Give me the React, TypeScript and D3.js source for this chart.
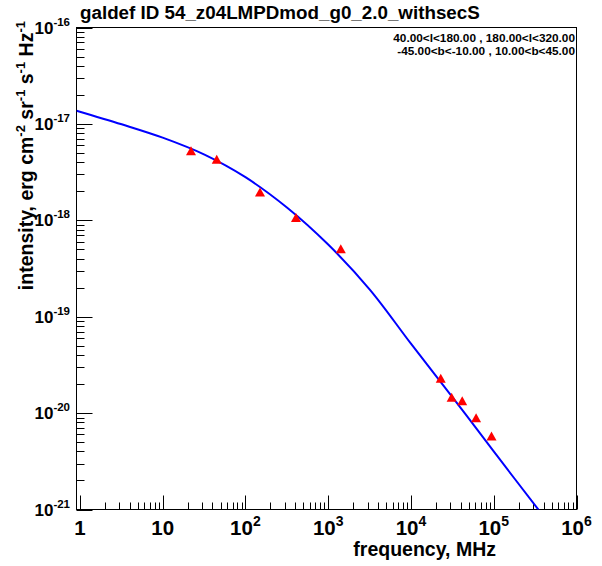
import React from 'react';
import * as d3 from 'd3';

// Data points (red triangles)
const freqMHz = [22, 45, 150, 408, 1420, 22900, 31000, 41600, 61200, 94000];
const intensity = [5.27e-18, 4.3e-18, 1.97e-18, 1.07e-18, 5.07e-19, 2.3e-20, 1.46e-20, 1.34e-20, 8.95e-21, 5.78e-21];

// Model curve (blue line)
const modelFreq = [0.91, 3.2, 10, 32, 100, 320, 1000, 3200, 10000, 32000, 100000, 400000];
const modelIntensity = [1.37e-17, 9.9e-18, 7.2e-18, 4.8e-18, 2.8e-18, 1.35e-18, 5.6e-19, 1.9e-19, 5.25e-20, 1.45e-20, 4.0e-21, 8.5e-22];

const xTickExp = [0, 1, 2, 3, 4, 5, 6];
const yTickExp = [-16, -17, -18, -19, -20, -21];

const titleText = 'galdef ID 54_z04LMPDmod_g0_2.0_withsecS';
const legendLines = ['40.00<l<180.00 , 180.00<l<320.00', '-45.00<b<-10.00 , 10.00<b<45.00'];

const FONT = '"Liberation Sans", Arial, Helvetica, sans-serif';

export default function App() {
  const left = 76.5, right = 576.5, top = 27.5, bottom = 509.5;
  const x = d3.scaleLog().domain([0.91, 1e6]).range([left, right]);
  const y = d3.scaleLog().domain([1e-21, 1e-16]).range([bottom, top]);

  const line = d3
    .line<number>()
    .x((i) => x(modelFreq[i]))
    .y((i) => y(modelIntensity[i]))
    .curve(d3.curveCatmullRom.alpha(0.5));
  const idx = modelFreq.map((_, i) => i);

  const xMinor: number[] = [];
  for (let e = 0; e < 6; e++) for (let m = 2; m <= 9; m++) xMinor.push(m * Math.pow(10, e));
  const yMinor: number[] = [];
  for (let e = -21; e < -16; e++) for (let m = 2; m <= 9; m++) yMinor.push(m * Math.pow(10, e));

  const triW = 10, triH = 9;

  return (
    <svg width={602} height={566} style={{ position: 'absolute', left: 0, top: 0, background: '#fff' }} fontFamily={FONT}>
      <rect x={0} y={0} width={602} height={566} fill="#fff" />
      <defs>
        <clipPath id="plotclip">
          <rect x={left} y={top} width={right - left} height={bottom - top} />
        </clipPath>
      </defs>

      {/* title */}
      <text x={80} y={19} fontSize={18.8} fontWeight="bold" fill="#000">{titleText}</text>

      {/* frame */}
      <rect x={left} y={top} width={right - left} height={bottom - top} fill="none" stroke="#000" strokeWidth={1} />

      {/* x ticks */}
      {xTickExp.map((e) => {
        const px = Math.round(x(Math.pow(10, e))) + 0.5;
        return <line key={'xM' + e} x1={px} x2={px} y1={bottom} y2={bottom - 14} stroke="#000" />;
      })}
      {xMinor.map((v, i) => {
        const px = Math.round(x(v)) + 0.5;
        return <line key={'xm' + i} x1={px} x2={px} y1={bottom} y2={bottom - 7} stroke="#000" />;
      })}

      {/* y ticks */}
      {yTickExp.map((e) => {
        const py = Math.round(y(Math.pow(10, e))) + 0.5;
        return <line key={'yM' + e} x1={left} x2={left + 16} y1={py} y2={py} stroke="#000" />;
      })}
      {yMinor.map((v, i) => {
        const py = Math.round(y(v)) + 0.5;
        return <line key={'ym' + i} x1={left} x2={left + 8} y1={py} y2={py} stroke="#000" />;
      })}

      {/* x tick labels */}
      {xTickExp.map((e) => {
        const px = x(Math.pow(10, e));
        if (e === 0) return <text key={'xl' + e} x={px} y={535} fontSize={20.5} fontWeight="bold" textAnchor="middle">1</text>;
        if (e === 1) return <text key={'xl' + e} x={px} y={535} fontSize={20.5} fontWeight="bold" textAnchor="middle">10</text>;
        return (
          <text key={'xl' + e} x={px} y={535} fontSize={20.5} fontWeight="bold" textAnchor="middle">
            10<tspan fontSize={14} dy={-9}>{e}</tspan>
          </text>
        );
      })}

      {/* y tick labels */}
      {yTickExp.map((e) => {
        const py = y(Math.pow(10, e));
        return (
          <text key={'yl' + e} x={70} y={py + 6} fontSize={17} fontWeight="bold" textAnchor="end">
            10<tspan fontSize={11.5} dy={-8}>{e}</tspan>
          </text>
        );
      })}

      {/* axis titles */}
      <text x={496} y={556} fontSize={19.5} fontWeight="bold" textAnchor="end">frequency, MHz</text>
      <text transform={`translate(33, 21) rotate(-90)`} fontSize={19.5} fontWeight="bold" textAnchor="end">
        intensity, erg cm<tspan fontSize={13} dy={-8}>-2</tspan>
        <tspan dy={8}> sr</tspan><tspan fontSize={13} dy={-8}>-1</tspan>
        <tspan dy={8}> s</tspan><tspan fontSize={13} dy={-8}>-1</tspan>
        <tspan dy={8}> Hz</tspan><tspan fontSize={13} dy={-8}>-1</tspan>
      </text>

      {/* legend text */}
      {legendLines.map((t, i) => (
        <text key={'lg' + i} x={575} y={42 + i * 13.3} fontSize={11.8} fontWeight="bold" textAnchor="end">{t}</text>
      ))}

      {/* model curve */}
      <g clipPath="url(#plotclip)">
        <path d={line(idx) || ''} fill="none" stroke="#0000ff" strokeWidth={2} />
      </g>

      {/* data points */}
      {freqMHz.map((f, i) => {
        const cx = x(f), cy = y(intensity[i]);
        const pts = `${cx - triW / 2},${cy + triH / 2} ${cx + triW / 2},${cy + triH / 2} ${cx},${cy - triH / 2}`;
        return <polygon key={'p' + i} points={pts} fill="#ff0000" />;
      })}
    </svg>
  );
}
